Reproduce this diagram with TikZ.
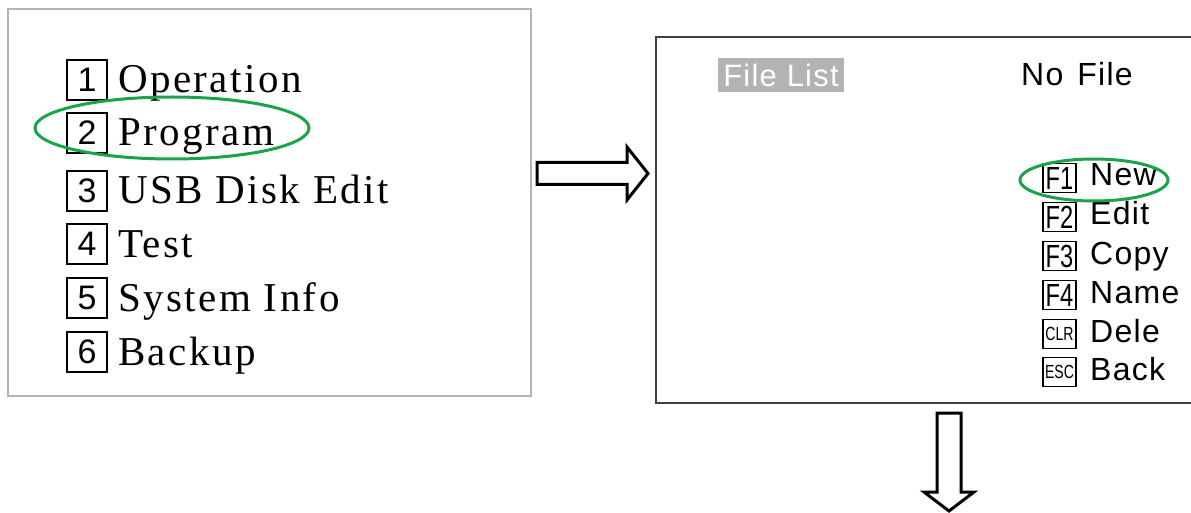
\documentclass[tikz,border=0pt]{standalone}
\usepackage{fontspec}
\usepackage{graphicx}
\usetikzlibrary{shapes.geometric}
\setmainfont{Liberation Serif}
\newfontfamily\menufont[LetterSpace=6]{Liberation Serif}
\newfontfamily\panelfont[LetterSpace=4]{Liberation Sans}
\newfontfamily\keyfont{Liberation Sans}
\definecolor{ringgreen}{HTML}{1BA34B}
\definecolor{lframe}{HTML}{B4B4B4}
\definecolor{rframe}{HTML}{404040}
\definecolor{hilite}{HTML}{B3B3B3}
\tikzset{
  numbox/.style={draw, line width=1.6pt, minimum width=40pt, minimum height=40pt,
    inner sep=0pt, font=\keyfont\fontsize{34}{34}\selectfont},
  menuitem/.style={anchor=base west, inner sep=0pt, font=\menufont\fontsize{41}{41}\selectfont},
  keybox/.style={draw, line width=1.4pt, minimum width=33pt, minimum height=29pt,
    inner sep=0pt, font=\keyfont\fontsize{32}{32}\selectfont},
  smallkey/.style={keybox, font=\keyfont\fontsize{19}{19}\selectfont},
  keyitem/.style={anchor=base west, inner sep=0pt, font=\panelfont\fontsize{32}{32}\selectfont},
  pickring/.style={ellipse, draw=ringgreen, line width=3pt, inner sep=0pt},
  blockarrow/.style={draw=black, line width=3pt, line join=miter, fill=white},
}
\begin{document}
\begin{tikzpicture}[x=1pt, y=-1pt]
\useasboundingbox (0,0) rectangle (1191,513);
\clip (0,0) rectangle (1191,513);

% main menu screen
\draw[lframe, line width=2pt] (8,9) rectangle (531,396);
\foreach \n/\yy/\txt in {1/80/Operation, 2/133/Program, 3/191/USB Disk Edit,
                         4/244/Test, 5/298/System Info, 6/352/Backup} {
  \node[numbox] (num\n) at (87,\yy) {\n};
  \node[menuitem] (item\n) at (118,\yy+13) {\txt};
}
\node[pickring, minimum width=274pt, minimum height=62pt] (pick1) at (172,128) {};

% arrow to the file list screen
\coordinate (rarrow) at (537,173.5);
\draw[blockarrow] (rarrow) ++(0,-11) -- ++(90,0) -- ++(0,-15.5) -- ++(21,26.5)
  -- ++(-21,26.5) -- ++(0,-15.5) -- ++(-90,0) -- cycle;

% file list screen
\draw[rframe, line width=2pt] (656,37) rectangle (1210,403);
\node[fill=hilite, text=white, minimum width=126pt, minimum height=34pt, inner sep=0pt,
      font=\panelfont\fontsize{31}{31}\selectfont] (title) at (781,75) {File List};
\node[keyitem] (status) at (1021,86) {No\hspace{14pt}File};

\foreach \k/\yy/\lab/\txt/\sty in {1/178/F1/New/keybox, 2/217/F2/Edit/keybox,
    3/256/F3/Copy/keybox, 4/295/F4/Name/keybox,
    5/334/CLR/Dele/smallkey, 6/372/ESC/Back/smallkey} {
  \node[\sty] (key\k) at (1059.5,\yy) {\scalebox{0.74}[1]{\lab}};
  \node[keyitem] (act\k) at (1090,\yy+8) {\txt};
}
\node[pickring, minimum width=148pt, minimum height=42pt] (pick2) at (1094,180) {};

% arrow to the next screen
\coordinate (darrow) at (949,413);
\draw[blockarrow] (darrow) ++(-12,0) -- ++(24,0) -- ++(0,79) -- ++(13,0)
  -- ++(-25,19) -- ++(-25,-19) -- ++(13,0) -- cycle;
\end{tikzpicture}
\end{document}
